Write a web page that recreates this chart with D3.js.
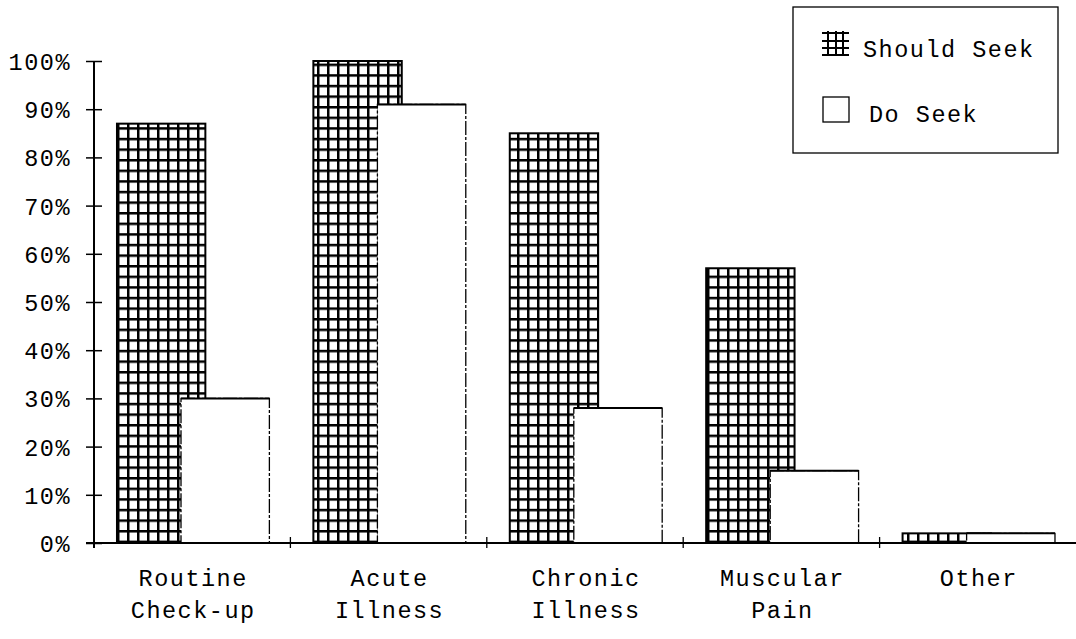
<!DOCTYPE html>
<html>
<head>
<meta charset="utf-8">
<script src="https://cdn.jsdelivr.net/npm/d3@7"></script>
<style>
  html, body { margin: 0; padding: 0; background: #fff; }
  svg { display: block; }
  text { font-family: "Liberation Mono", "Courier New", monospace; fill: #000; }
</style>
</head>
<body>
<svg id="chart" width="1076" height="639"></svg>
<script>
const categories = [["Routine", "Check-up"], ["Acute", "Illness"], ["Chronic", "Illness"], ["Muscular", "Pain"], ["Other"]];
const categoryKeys = ["Routine Check-up", "Acute Illness", "Chronic Illness", "Muscular Pain", "Other"];
const shouldSeek = [87, 100, 85, 57, 2];
const doSeek = [30, 91, 28, 15, 2];
const yTicks = [0, 10, 20, 30, 40, 50, 60, 70, 80, 90, 100];
const seriesNames = ["Should Seek", "Do Seek"];

const svg = d3.select("#chart");
const FS = 23.5;
const LS = "1.5px";

const x = d3.scaleBand().domain(categoryKeys).range([94, 1076]).paddingInner(0).paddingOuter(0);
const y = d3.scaleLinear().domain([0, 100]).range([543, 61]);

// hatch pattern
const defs = svg.append("defs");
const pat = defs.append("pattern").attr("id", "grid").attr("patternUnits", "userSpaceOnUse")
  .attr("width", 10).attr("height", 10.6).attr("x", 117).attr("y", 0);
pat.append("rect").attr("width", 10).attr("height", 10.6).attr("fill", "#fff");
pat.append("line").attr("x1", 1.2).attr("x2", 1.2).attr("y1", 0).attr("y2", 10.6).attr("stroke", "#000").attr("stroke-width", 2.6);
pat.append("line").attr("x1", 0).attr("x2", 10).attr("y1", 1.2).attr("y2", 1.2).attr("stroke", "#000").attr("stroke-width", 2.6);

const bw = x.bandwidth();
const off1 = bw * 0.117, off2 = bw * 0.443, barW = bw * 0.45;

// Should seek bars
svg.append("g").selectAll("rect").data(shouldSeek).join("rect")
  .attr("x", (d, i) => x(categoryKeys[i]) + off1)
  .attr("y", d => y(d))
  .attr("width", barW)
  .attr("height", d => y(0) - y(d))
  .attr("fill", "url(#grid)")
  .attr("stroke", "#000").attr("stroke-width", 2);

// Do seek bars
svg.append("g").selectAll("rect").data(doSeek).join("rect")
  .attr("x", (d, i) => x(categoryKeys[i]) + off2)
  .attr("y", d => y(d))
  .attr("width", barW)
  .attr("height", d => y(0) - y(d))
  .attr("fill", "#fff")
  .attr("stroke", "#000").attr("stroke-width", 1.3)
  .attr("stroke-dasharray", "14,2,3,2");
svg.append("g").selectAll("line").data(doSeek).join("line")
  .attr("x1", (d, i) => x(categoryKeys[i]) + off2)
  .attr("x2", (d, i) => x(categoryKeys[i]) + off2 + barW)
  .attr("y1", d => y(d)).attr("y2", d => y(d))
  .attr("stroke", "#000").attr("stroke-width", 2);

// Y axis
const yAxis = d3.axisLeft(y).tickValues(yTicks).tickFormat(d => d + "%").tickSize(8).tickPadding(15);
const gy = svg.append("g").attr("transform", "translate(94,0)").call(yAxis);
gy.select(".domain").remove();
gy.selectAll(".tick line").attr("x1", 8).attr("x2", -8).attr("stroke", "#000").attr("stroke-width", 1.5);
gy.selectAll(".tick text").attr("font-size", FS).attr("letter-spacing", LS)
  .attr("font-family", "Liberation Mono, monospace").attr("dy", "0.36em");
gy.append("line").attr("x1", 0).attr("x2", 0).attr("y1", y(100)).attr("y2", y(0) + 5).attr("stroke", "#000").attr("stroke-width", 2);

// X axis
svg.append("line").attr("x1", 86).attr("x2", 1076).attr("y1", y(0)).attr("y2", y(0)).attr("stroke", "#000").attr("stroke-width", 2);
const boundaries = categoryKeys.slice(1).map(k => x(k));
svg.append("g").selectAll("line").data(boundaries).join("line")
  .attr("x1", d => d).attr("x2", d => d).attr("y1", y(0) - 6).attr("y2", y(0) + 5)
  .attr("stroke", "#000").attr("stroke-width", 1.3);

// Category labels
const lab = svg.append("g").selectAll("text").data(categories).join("text")
  .attr("text-anchor", "middle").attr("font-size", FS).attr("letter-spacing", LS);
lab.each(function(d, i) {
  const t = d3.select(this);
  d.forEach((line, j) => {
    t.append("tspan").attr("x", x(categoryKeys[i]) + bw / 2 + 1).attr("y", 586 + j * 32).text(line);
  });
});

// Legend
const lg = svg.append("g");
lg.append("rect").attr("x", 793).attr("y", 7).attr("width", 265).attr("height", 146)
  .attr("fill", "#fff").attr("stroke", "#000").attr("stroke-width", 1.3);
const ic = lg.append("g").attr("stroke", "#000").attr("stroke-width", 2);
[33, 41, 48, 55].forEach(v => ic.append("line").attr("x1", 822).attr("x2", 849).attr("y1", v).attr("y2", v));
[828, 836, 843].forEach(v => ic.append("line").attr("x1", v).attr("x2", v).attr("y1", 31).attr("y2", 56));
lg.append("rect").attr("x", 823).attr("y", 97).attr("width", 26).attr("height", 25)
  .attr("fill", "#fff").attr("stroke", "#000").attr("stroke-width", 1.3);
lg.selectAll("text.leg").data(seriesNames).join("text").attr("class", "leg")
  .attr("x", (d, i) => i === 0 ? 863 : 869).attr("y", (d, i) => i === 0 ? 57 : 122)
  .attr("font-size", FS).attr("letter-spacing", LS).text(d => d);
</script>
</body>
</html>
